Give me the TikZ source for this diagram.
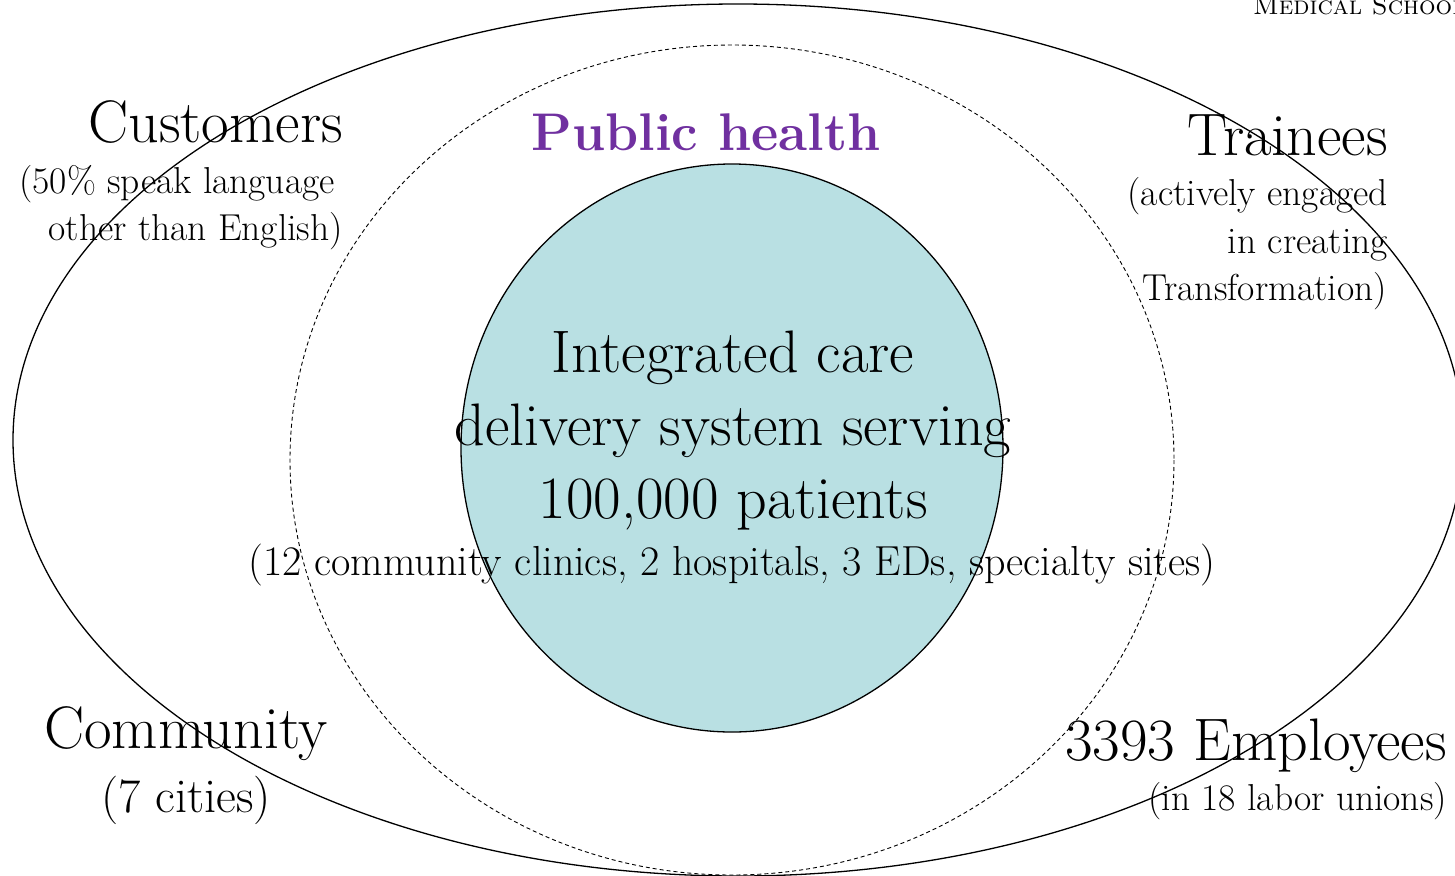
\documentclass[tikz,border=0pt]{standalone}
\usepackage{fontspec}
\definecolor{phpurple}{HTML}{7030A0}
\definecolor{corefill}{HTML}{B9E0E3}
\newcommand{\fs}[1]{\fontsize{#1}{#1}\selectfont}
\tikzset{
  big/.style={inner sep=0pt, font=\fs{60}},
  small/.style={inner sep=0pt, font=\fs{37.5}},
  ring/.style={draw=black, line width=1.3pt},
  dashring/.style={draw=black, line width=0.9pt, dash pattern=on 4pt off 3pt},
}
\begin{document}
\begin{tikzpicture}[x=1pt,y=-1pt]
\useasboundingbox (0,0) rectangle (1455,875);
\fill[white] (0,0) rectangle (1455,875);
% shapes
\path[ring] (738,440) ellipse [x radius=725, y radius=436];
\path[dashring] (732,460) ellipse [x radius=442, y radius=415];
\path[ring, fill=corefill] (732,448) ellipse [x radius=271, y radius=284];
% header
\node[inner sep=0pt, anchor=base west, font=\fs{26}\scshape] (hdr) at (1253,15) {Medical School};
% public health
\node[inner sep=0pt, anchor=base, font=\fs{53}\bfseries, text=phpurple] (ph) at (706,150) {Public health};
% center
\node[big, anchor=base] (c1) at (733,372) {Integrated care};
\node[big, anchor=base] (c2) at (733,445) {delivery system serving};
\node[big, anchor=base] (c3) at (733,518) {100,000 patients};
\node[small, font=\fs{42}, anchor=base] (c4) at (732,575) {(12 community clinics, 2 hospitals, 3 EDs, specialty sites)};
% customers
\node[big, anchor=base east] (cu1) at (343,142) {Customers};
\node[small, anchor=base east] (cu2) at (335,193) {(50\% speak language};
\node[small, anchor=base east] (cu3) at (343,240) {other than English)};
% trainees
\node[big, anchor=base east] (tr1) at (1388,155) {Trainees};
\node[small, anchor=base east] (tr2) at (1388,205) {(actively engaged};
\node[small, anchor=base east] (tr3) at (1388,253) {in creating};
\node[small, anchor=base east] (tr4) at (1387,300) {Transformation)};
% community
\node[big, anchor=base] (co1) at (186,748) {Community};
\node[big, font=\fs{48.5}, anchor=base] (co2) at (186,812) {(7 cities)};
% employees
\node[big, anchor=base east] (em1) at (1447,760) {3393 Employees};
\node[small, anchor=base east] (em2) at (1447,810) {(in 18 labor unions)};
\end{tikzpicture}
\end{document}
